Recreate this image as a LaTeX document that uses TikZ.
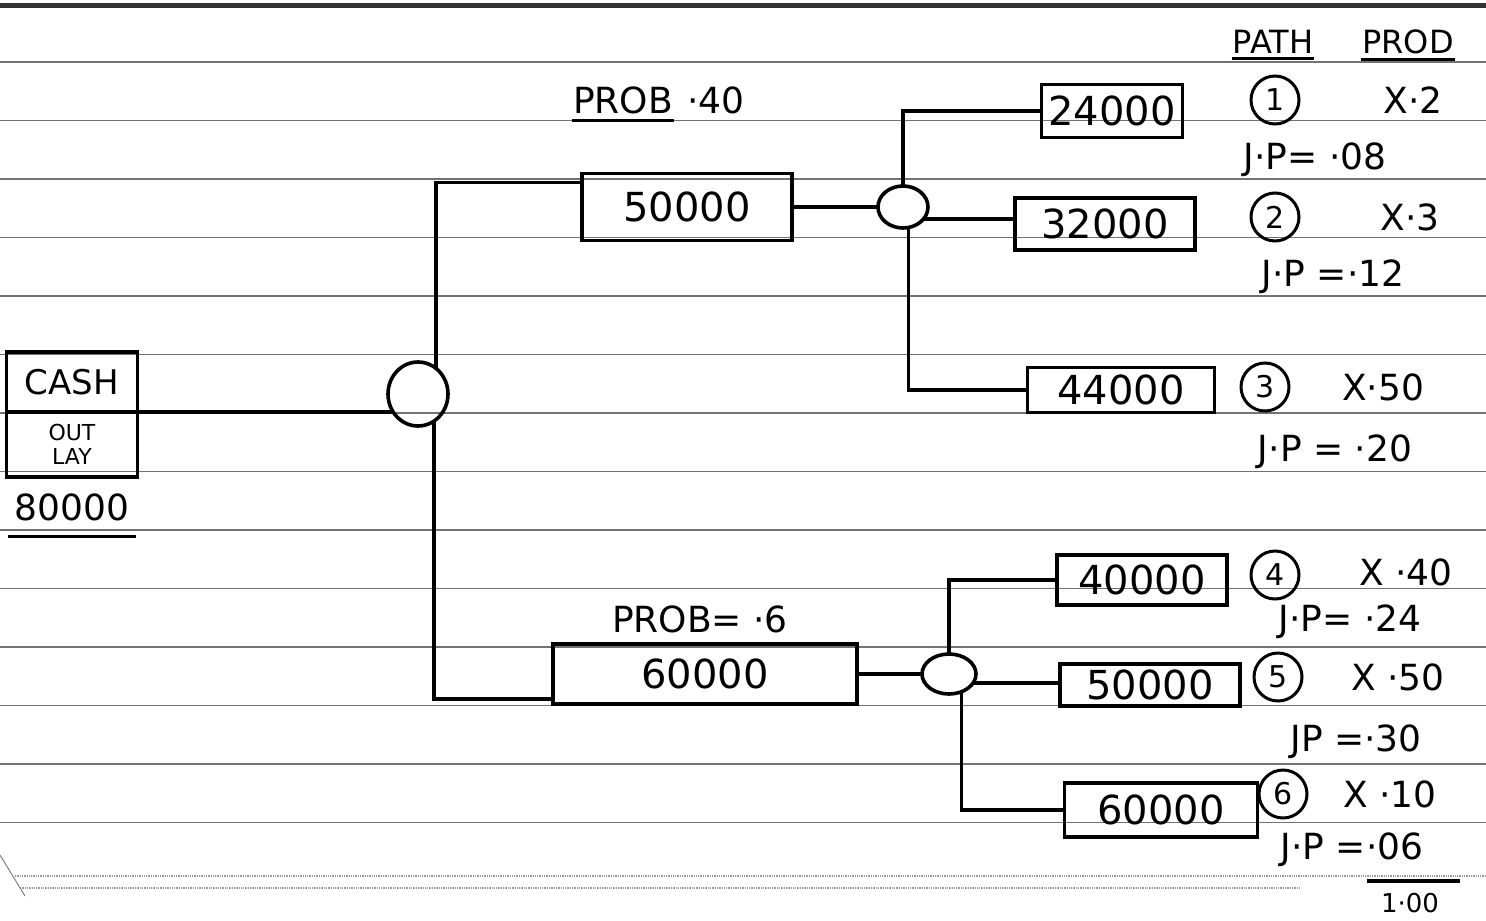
\documentclass[tikz,border=0pt]{standalone}
\usepackage{fontspec}
\setmainfont{DejaVu Sans}
\usetikzlibrary{positioning,calc,shapes.geometric}
\tikzset{
  box/.style={draw, line width=3.6pt, inner sep=0pt, outer sep=0pt,
              font=\fontsize{40}{44}\selectfont},
  chance/.style={draw, ellipse, line width=3.6pt, inner sep=0pt, outer sep=0pt},
  edge/.style={line width=3.6pt},
  lbl/.style={font=\fontsize{36}{40}\selectfont, inner sep=1pt},
  pathno/.style={draw, circle, line width=3pt, minimum size=48pt,
                 inner sep=0pt, font=\fontsize{30}{32}\selectfont},
  rule/.style={black!55, line width=1.3pt},
  uline/.style={line width=3pt},
}
\begin{document}
\begin{tikzpicture}[x=1pt,y=-1pt]
  \fill[white] (0,0) rectangle (1486,921);
  \useasboundingbox (0,0) rectangle (1486,921);
  \foreach \i in {0,...,13}
    \draw[rule] (0,{62+58.5*\i}) -- (1486,{62+58.5*\i});
  \draw[line width=5pt, black!80] (0,5) -- (1486,5);
  \draw[rule, densely dotted, black!40] (15,876) -- (1486,876);
  \draw[rule, densely dotted, black!40] (20,888) -- (1300,888);
  \draw[black!50, line width=1pt] (0,855) -- (25,896);

  \node[box, minimum width=131pt, minimum height=60pt,
        font=\fontsize{34}{38}\selectfont] (cash) at (72,382) {CASH};
  \node[box, minimum width=131pt, minimum height=65pt, align=center,
        font=\fontsize{22}{24}\selectfont, below=0pt of cash] (outlay) {OUT\\LAY};
  \node[lbl, below=16pt of outlay] (outamt) {80000};
  \draw[uline] ([xshift=-6pt,yshift=-14pt]outamt.south west)
    -- ([xshift=6pt,yshift=-14pt]outamt.south east);

  \node[chance, minimum width=60pt, minimum height=64pt] (c1) at (418,394) {};
  \node[chance, minimum width=50pt, minimum height=42pt] (c2) at (903,207) {};
  \node[chance, minimum width=54pt, minimum height=40pt] (c3) at (949,674) {};

  \node[box, minimum width=210pt, minimum height=67pt] (b50) at (687,207) {50000};
  \node[box, minimum width=304pt, minimum height=60pt] (b60) at (705,674) {60000};
  \node[lbl] (p1) at (623,100) {PROB};
  \node[lbl, right=12pt of p1] (p1v) {·40};
  \draw[uline] ([yshift=-6pt]p1.south west) -- ([yshift=-6pt]p1.south east);
  \node[lbl] (p2) at (700,619) {PROB= ·6};

  \node[box, minimum width=141pt, minimum height=53pt] (o24) at (1112,111) {24000};
  \node[box, minimum width=180pt, minimum height=52pt] (o32) at (1105,224) {32000};
  \node[box, minimum width=187pt, minimum height=45pt] (o44) at (1121,390) {44000};
  \node[box, minimum width=170pt, minimum height=50pt] (o40) at (1142,580) {40000};
  \node[box, minimum width=180pt, minimum height=42pt] (o50) at (1150,685) {50000};
  \node[box, minimum width=193pt, minimum height=54pt] (o60) at (1161,810) {60000};

  \draw[edge] (outlay.north east) -- ($(c1.west |- outlay.north east)+(6,0)$);
  \draw[edge] (c1.55) |- ([yshift=-9pt]b50.north west);
  \draw[edge] (c1.300) |- ([yshift=5pt]b60.south west);
  \draw[edge] (b50.east) -- (c2.west);
  \draw[edge] (c2.north) |- (o24.west);
  \draw[edge] (c2.330) -- (c2.330 -| o32.west);
  \draw[edge] (c2.285) |- (o44.west);
  \draw[edge] (b60.east) -- (c3.west);
  \draw[edge] (c3.north) |- (o40.west);
  \draw[edge] (c3.340) -- (c3.340 -| o50.west);
  \draw[edge] (c3.305) |- (o60.west);

  \node[lbl, font=\fontsize{32}{36}\selectfont] (hpath) at (1273,42) {PATH};
  \node[lbl, font=\fontsize{32}{36}\selectfont] (hprod) at (1408,42) {PROD};
  \draw[uline] ([yshift=-4pt]hpath.south west) -- ([yshift=-4pt]hpath.south east);
  \draw[uline] ([yshift=-4pt]hprod.south west) -- ([yshift=-4pt]hprod.south east);

  \node[pathno] (n1) at (1275,100) {1};
  \node[lbl] (x1) at (1413,100) {X·2};
  \node[lbl] (jp1) at (1315,160) {J·P= ·08};
  \node[pathno] (n2) at (1275,217) {2};
  \node[lbl] (x2) at (1410,217) {X·3};
  \node[lbl] (jp2) at (1333,277) {J·P =·12};
  \node[pathno] (n3) at (1265,387) {3};
  \node[lbl] (x3) at (1383,387) {X·50};
  \node[lbl] (jp3) at (1335,452) {J·P = ·20};
  \node[pathno] (n4) at (1275,575) {4};
  \node[lbl] (x4) at (1406,572) {X ·40};
  \node[lbl] (jp4) at (1350,622) {J·P= ·24};
  \node[pathno] (n5) at (1278,677) {5};
  \node[lbl] (x5) at (1398,677) {X ·50};
  \node[lbl] (jp5) at (1356,742) {JP =·30};
  \node[pathno] (n6) at (1283,794) {6};
  \node[lbl] (x6) at (1390,794) {X ·10};
  \node[lbl] (jp6) at (1352,850) {J·P =·06};
  \coordinate (tot1) at (1367,881);
  \coordinate (tot2) at (1460,881);
  \draw[uline, line width=4pt] (tot1) -- (tot2);
  \node[lbl, font=\fontsize{26}{28}\selectfont] (total) at (1410,903) {1·00};
\end{tikzpicture}
\end{document}
